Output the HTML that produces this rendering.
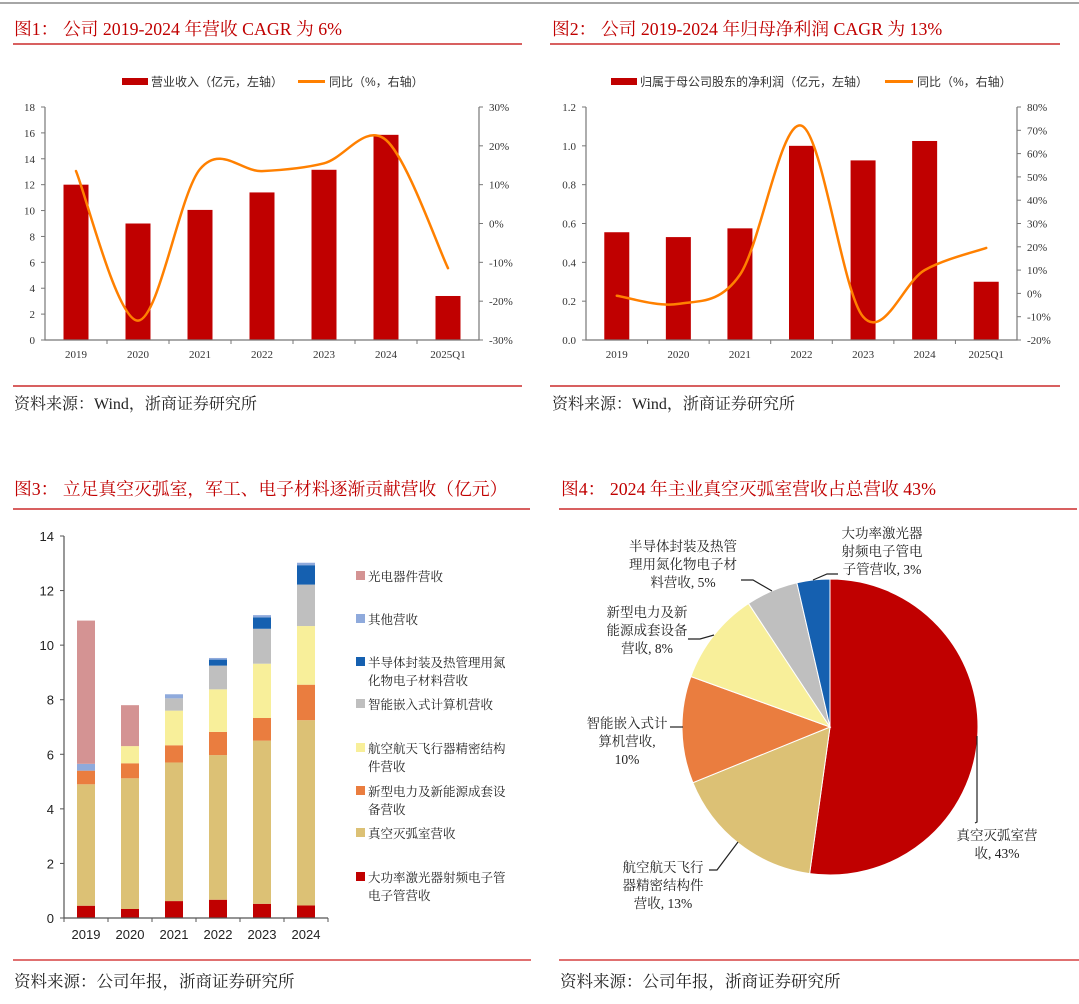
<!DOCTYPE html>
<html><head><meta charset="utf-8"><style>
html,body{margin:0;padding:0;background:#fff;}
svg{display:block;}
.ser{font-family:"Liberation Serif","Noto Serif CJK SC",serif;}
.san{font-family:"Liberation Sans","Noto Sans CJK SC",sans-serif;}
</style></head><body>
<svg id="root" width="1079" height="1004" viewBox="0 0 1079 1004" xmlns="http://www.w3.org/2000/svg">
<line x1="0" y1="3" x2="1079" y2="3" stroke="#888" stroke-width="1.5"/>
<g class="ser" fill="#c00000" font-size="17.8">
<text x="14" y="35">图1：  公司 2019-2024 年营收 CAGR 为 6%</text>
<text x="552" y="35">图2：  公司 2019-2024 年归母净利润 CAGR 为 13%</text>
<text x="14" y="495">图3：  立足真空灭弧室，军工、电子材料逐渐贡献营收（亿元）</text>
<text x="561" y="495">图4：  2024 年主业真空灭弧室营收占总营收 43%</text>
</g>
<g stroke="#c00000" stroke-width="1.2">
<line x1="13" y1="44" x2="522" y2="44"/>
<line x1="550" y1="44" x2="1060" y2="44"/>
<line x1="13" y1="386" x2="522" y2="386"/>
<line x1="550" y1="386" x2="1060" y2="386"/>
<line x1="13" y1="509" x2="530" y2="509"/>
<line x1="559" y1="509" x2="1077" y2="509"/>
</g>
<g stroke="#e07070" stroke-width="2">
<line x1="13" y1="960" x2="531" y2="960"/>
<line x1="559" y1="960" x2="1079" y2="960"/>
</g>
<g class="ser" fill="#222" font-size="16">
<text x="14" y="409">资料来源：Wind，浙商证券研究所</text>
<text x="552" y="409">资料来源：Wind，浙商证券研究所</text>
<text x="14" y="987" font-size="16.5">资料来源：公司年报，浙商证券研究所</text>
<text x="560" y="987" font-size="16.5">资料来源：公司年报，浙商证券研究所</text>
</g>
<g id="c1"></g>
<g id="c2"></g>
<g id="c3"></g>
<g id="c4"></g>
</svg>
<script>
// ---- Chart 1 data
const c1Categories = ["2019","2020","2021","2022","2023","2024","2025Q1"];
const c1Revenue = [12.0, 9.0, 10.05, 11.4, 13.15, 15.85, 3.4];
const c1Growth = [13.5, -25, 14, 13.5, 15.5, 21.5, -11.5];
const c1LeftTicks = [0,2,4,6,8,10,12,14,16,18];
const c1RightTicks = [-30,-20,-10,0,10,20,30];
// ---- Chart 2 data
const c2Categories = ["2019","2020","2021","2022","2023","2024","2025Q1"];
const c2Profit = [0.555, 0.53, 0.575, 1.0, 0.925, 1.025, 0.30];
const c2Growth = [-1, -4.5, 8, 72, -10, 10, 19.5];
const c2LeftTicks = [0,0.2,0.4,0.6,0.8,1.0,1.2];
const c2RightTicks = [-20,-10,0,10,20,30,40,50,60,70,80];
// ---- Chart 3 data
const c3Years = ["2019","2020","2021","2022","2023","2024"];
const c3Laser = [0.45, 0.33, 0.62, 0.67, 0.52, 0.46];
const c3Vacuum = [4.45, 4.79, 5.08, 5.30, 5.98, 6.79];
const c3Power = [0.50, 0.55, 0.63, 0.85, 0.83, 1.30];
const c3Aero = [0, 0.63, 1.27, 1.56, 1.99, 2.15];
const c3Embedded = [0, 0, 0.45, 0.87, 1.28, 1.52];
const c3Semi = [0, 0, 0, 0.22, 0.42, 0.71];
const c3Other = [0.25, 0, 0.15, 0.06, 0.08, 0.09];
const c3Opto = [5.25, 1.50, 0, 0, 0, 0];
const c3Ticks = [0,2,4,6,8,10,12,14];
// ---- Chart 4 data (share of pie as drawn)
const c4Shares = [52.3, 16.7, 11.7, 10.2, 5.7, 3.6];

const NS="http://www.w3.org/2000/svg";
function mk(parent,tag,attrs,text){const e=document.createElementNS(NS,tag);for(const k in attrs)e.setAttribute(k,attrs[k]);if(text!==undefined)e.textContent=text;parent.appendChild(e);return e;}
function smooth(pts){let d="M"+pts[0][0]+","+pts[0][1];for(let i=0;i<pts.length-1;i++){const p0=pts[i-1]||pts[i],p1=pts[i],p2=pts[i+1],p3=pts[i+2]||p2;const t=1/6;d+=" C"+(p1[0]+(p2[0]-p0[0])*t)+","+(p1[1]+(p2[1]-p0[1])*t)+" "+(p2[0]-(p3[0]-p1[0])*t)+","+(p2[1]-(p3[1]-p1[1])*t)+" "+p2[0]+","+p2[1];}return d;}

function comboChart(g,o){
  const x0=o.x0,x1=o.x1,yT=o.yT,yB=o.yB,n=o.cats.length,band=(x1-x0)/n;
  const yL=v=>yB-(v-o.lMin)/(o.lMax-o.lMin)*(yB-yT);
  const yR=v=>yB-(v-o.rMin)/(o.rMax-o.rMin)*(yB-yT);
  const xc=i=>x0+band*(i+0.5);
  let e=mk(g,"rect",{x:o.lg[0],y:78,width:o.lg[1]-o.lg[0],height:7,fill:"#c00000"});
  
  e=mk(g,"text",{x:o.lg[1]+3,y:86,"font-size":12,fill:"#333","class":"san"},o.barLabel);
  
  e=mk(g,"line",{x1:o.lg[2],y1:81.5,x2:o.lg[3],y2:81.5,stroke:"#ff8000","stroke-width":3});
  
  e=mk(g,"text",{x:o.lg[3]+4,y:86,"font-size":12,fill:"#333","class":"san"},"同比（%，右轴）");
  
  o.vals.forEach((v,i)=>{const b=mk(g,"rect",{x:xc(i)-12.5,y:yL(v),width:25,height:yB-yL(v),fill:"#c00000"});
    });
  e=mk(g,"path",{d:`M${x0},${yT} V${yB} H${x1} V${yT}`,fill:"none",stroke:"#777","stroke-width":1.2});
  
  o.lTicks.forEach(t=>{const y=yL(t);mk(g,"line",{x1:x0-4,y1:y,x2:x0,y2:y,stroke:"#777"});
    const l=mk(g,"text",{x:x0-10,y:y+4,"text-anchor":"end","font-size":11,fill:"#333","class":"ser"},o.lFmt(t));
    });
  o.rTicks.forEach(t=>{const y=yR(t);mk(g,"line",{x1:x1,y1:y,x2:x1+4,y2:y,stroke:"#777"});
    const l=mk(g,"text",{x:x1+10,y:y+4,"font-size":11,fill:"#333","class":"ser"},t+"%");
    });
  for(let i=1;i<n;i++){mk(g,"line",{x1:x0+band*i,y1:yB,x2:x0+band*i,y2:yB+4,stroke:"#777"});}
  o.cats.forEach((c,i)=>{const l=mk(g,"text",{x:xc(i),y:yB+18,"text-anchor":"middle","font-size":11,fill:"#333","class":"ser"},c);
    });
  const pts=o.line.map((v,i)=>[xc(i),yR(v)]);
  e=mk(g,"path",{d:smooth(pts),fill:"none",stroke:"#ff8000","stroke-width":2.5,"stroke-linecap":"round"});
  
}
comboChart(document.getElementById("c1"),{x0:45,x1:479,yT:107,yB:340,cats:c1Categories,vals:c1Revenue,line:c1Growth,
  lMin:0,lMax:18,rMin:-30,rMax:30,lTicks:c1LeftTicks,rTicks:c1RightTicks,lFmt:t=>String(t),
  lg:[122,148,298,325],barLabel:"营业收入（亿元，左轴）"});
comboChart(document.getElementById("c2"),{x0:586,x1:1017,yT:107,yB:340,cats:c2Categories,vals:c2Profit,line:c2Growth,
  lMin:0,lMax:1.2,rMin:-20,rMax:80,lTicks:c2LeftTicks,rTicks:c2RightTicks,lFmt:t=>t.toFixed(1),
  lg:[611,637,885,913],barLabel:"归属于母公司股东的净利润（亿元，左轴）"});

(function(){
  const g=document.getElementById("c3");
  const x0=64,x1=328,yT=536,yB=918,band=(x1-x0)/c3Years.length;
  const y=v=>yB-v/14*(yB-yT);
  const series=[[c3Laser,"#c00000","laser"],[c3Vacuum,"#dcc175","vacuum"],[c3Power,"#ea7d3f","power"],[c3Aero,"#f8ef9a","aero"],
    [c3Embedded,"#bfbfbf","embedded"],[c3Semi,"#1560b0","semi"],[c3Other,"#8faadc","other"],[c3Opto,"#d49393","opto"]];
  c3Years.forEach((yr,i)=>{let acc=0;const cx=x0+band*(i+0.5);
    series.forEach(s=>{const v=s[0][i];if(v<=0)return;const r=mk(g,"rect",{x:cx-9,y:y(acc+v),width:18,height:y(acc)-y(acc+v),fill:s[1]});
      acc+=v;});});
  let e=mk(g,"path",{d:`M${x0},${yT} V${yB} H${x1}`,fill:"none",stroke:"#555","stroke-width":1.2});
  
  c3Ticks.forEach(t=>{mk(g,"line",{x1:x0-4,y1:y(t),x2:x0,y2:y(t),stroke:"#555"});
    const l=mk(g,"text",{x:x0-10,y:y(t)+5,"text-anchor":"end","font-size":13,fill:"#222","class":"san"},t);
    });
  for(let i=0;i<=c3Years.length;i++)mk(g,"line",{x1:x0+band*i,y1:yB,x2:x0+band*i,y2:yB+4,stroke:"#555"});
  c3Years.forEach((yr,i)=>{const l=mk(g,"text",{x:x0+band*(i+0.5),y:939,"text-anchor":"middle","font-size":13,fill:"#222","class":"san"},yr);
    });
  const leg=[["#d49393",["光电器件营收"],576],["#8faadc",["其他营收"],619],["#1560b0",["半导体封装及热管理用氮","化物电子材料营收"],662],
    ["#bfbfbf",["智能嵌入式计算机营收"],704],["#f8ef9a",["航空航天飞行器精密结构","件营收"],748],["#ea7d3f",["新型电力及新能源成套设","备营收"],791],
    ["#dcc175",["真空灭弧室营收"],833],["#c00000",["大功率激光器射频电子管","电子管营收"],877]];
  leg.forEach(L=>{const r=mk(g,"rect",{x:356,y:L[2]-5,width:9,height:9,fill:L[0]});
    
    L[1].forEach((t,j)=>{const tx=mk(g,"text",{x:368,y:L[2]+5+j*18,"font-size":12.5,fill:"#222","class":"ser"},t);
      });});
})();

(function(){
  const g=document.getElementById("c4");
  const cx=830,cy=727,R=148,cols=["#c00000","#dcc175","#ea7d3f","#f8ef9a","#bfbfbf","#1560b0"];
  const names=["vacuum","aero","embedded","power","semi","laser"];
  const total=c4Shares.reduce((a,b)=>a+b,0);let a0=0;
  c4Shares.forEach((v,i)=>{const a1=a0+v/total*2*Math.PI;
    const p=(a)=>[cx+R*Math.sin(a),cy-R*Math.cos(a)];const s=p(a0),e=p(a1);
    const path=mk(g,"path",{d:`M${cx},${cy} L${s[0]},${s[1]} A${R},${R} 0 ${a1-a0>Math.PI?1:0} 1 ${e[0]},${e[1]} Z`,fill:cols[i],stroke:"#fff","stroke-width":1});
    a0=a1;});
  const leaders=["M813,580 L827,574 L838,574","M772,591 L753,580 L741,580","M714,635 L700,639 L688,639","M683,727 L670,727","M738,842 L717,870 L709,870","M977,736 L977,822 L975,823"];
  leaders.forEach(d=>{const l=mk(g,"path",{d:d,fill:"none",stroke:"#222","stroke-width":1.2});
    });
  const labels=[[882,533,["大功率激光器","射频电子管电","子管营收, 3%"]],[683,546,["半导体封装及热管","理用氮化物电子材","料营收, 5%"]],
    [647,612,["新型电力及新","能源成套设备","营收, 8%"]],[627,723,["智能嵌入式计","算机营收,","10%"]],
    [663,867,["航空航天飞行","器精密结构件","营收, 13%"]],[997,835,["真空灭弧室营","收, 43%"]]];
  labels.forEach(L=>{L[2].forEach((t,j)=>{const tx=mk(g,"text",{x:L[0],y:L[1]+5+j*18,"text-anchor":"middle","font-size":13.5,fill:"#222","class":"ser"},t);
    });});
})();
</script>
</body></html>
